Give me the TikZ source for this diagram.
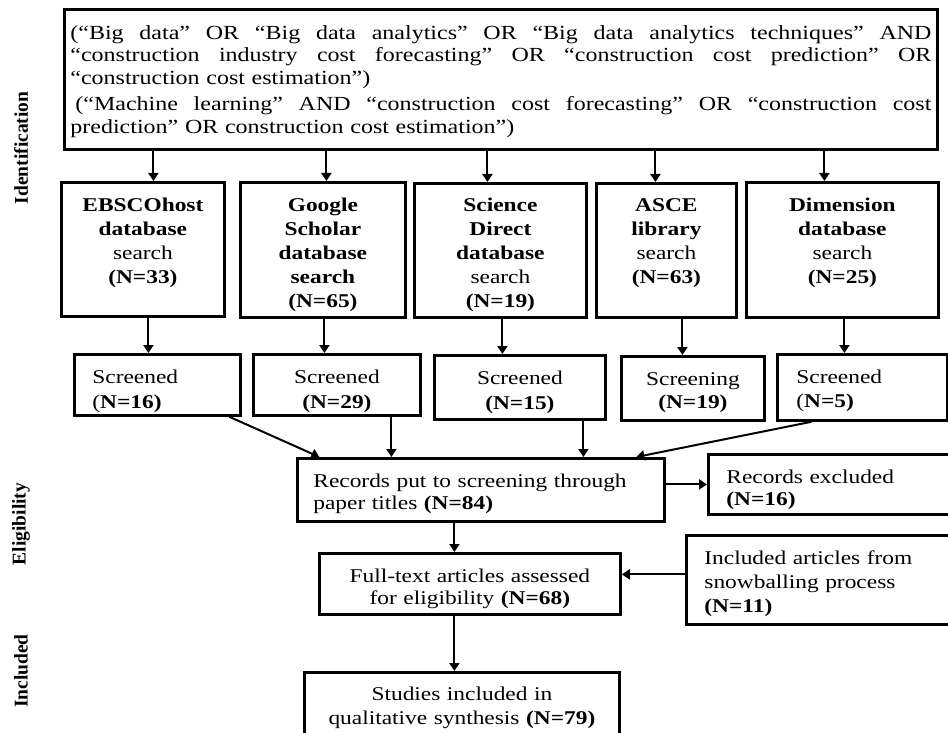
\documentclass[tikz,border=0pt]{standalone}
\usepackage{fontspec}
\setmainfont[FakeStretch=1.2]{Liberation Serif}
\newfontfamily\sidefont{Liberation Serif}
\usetikzlibrary{arrows.meta}

\newcommand{\jline}[1]{\makebox[861pt][s]{\spaceskip=\fontdimen2\font plus 1fil\relax #1}}

\tikzset{
    >={Triangle[length=8pt,width=10pt]},
    pbox/.style={draw, line width=2.8pt, anchor=north west, inner ysep=0pt,
        inner xsep=4pt, align=center, font=\fontsize{19.5}{23}\selectfont},
    dbbox/.style={pbox, font=\fontsize{19.5}{24}\selectfont},
    arr/.style={->, line width=2pt},
    phase/.style={rotate=90, font=\sidefont\bfseries\fontsize{19.5}{23}\selectfont}
}

\begin{document}
\begin{tikzpicture}[x=1pt,y=-1pt]
                \useasboundingbox (0,0) rectangle (948,733);

                \node[phase] (ident) at (21,148) {Identification};
                \node[phase] (elig) at (21,524) {Eligibility};
                \node[phase] (incl) at (21,671) {Included};

                \node[pbox, align=left, inner xsep=6pt, text width=861pt,
                    text height=30pt, text depth=110pt, font=\fontsize{20}{22.5}\selectfont] (query) at (63,8)
                    {\jline{(“Big data” OR “Big data analytics” OR “Big data analytics techniques” AND}\\
                     \jline{“construction industry cost forecasting” OR “construction cost prediction” OR}\\
                     “construction cost estimation”)\\[4pt]
                     \jline{\hspace{5pt}(“Machine learning” AND “construction cost forecasting” OR “construction cost}\\
                     prediction” OR construction cost estimation”)};

                \node[dbbox, text width=155pt, text height=29pt, text depth=105pt] (ebsco) at (60,181)
                    {\textbf{EBSCOhost}\\\textbf{database}\\search\\\textbf{(N=33)}};
                \node[dbbox, text width=157pt, text height=29pt, text depth=106pt] (google) at (239,181)
                    {\textbf{Google}\\\textbf{Scholar}\\\textbf{database}\\\textbf{search}\\\textbf{(N=65)}};
                \node[dbbox, text width=164pt, text height=28pt, text depth=106pt] (scidir) at (413,182)
                    {\textbf{Science}\\\textbf{Direct}\\\textbf{database}\\search\\\textbf{(N=19)}};
                \node[dbbox, text width=132pt, text height=28pt, text depth=106pt] (asce) at (595,182)
                    {\textbf{ASCE}\\\textbf{library}\\search\\\textbf{(N=63)}};
                \node[dbbox, text width=184pt, text height=29pt, text depth=106pt] (dimen) at (745,181)
                    {\textbf{Dimension}\\\textbf{database}\\search\\\textbf{(N=25)}};

                \node[pbox, align=left, inner xsep=18pt, text width=130pt, text height=29.5pt,
                    text depth=31.5pt, font=\fontsize{19.5}{25}\selectfont] (scr1) at (73,353)
                    {Screened\\(\textbf{N=16)}};
                \node[pbox, text width=159pt, text height=29.5pt, text depth=31.5pt,
                    font=\fontsize{19.5}{25}\selectfont] (scr2) at (252,353)
                    {Screened\\\textbf{(N=29)}};
                \node[pbox, text width=163pt, text height=29pt, text depth=35pt,
                    font=\fontsize{19.5}{25}\selectfont] (scr3) at (433,354)
                    {Screened\\\textbf{(N=15)}};
                \node[pbox, text width=135pt, text height=29.5pt, text depth=34.5pt] (scr4) at (620,355)
                    {Screening\\\textbf{(N=19)}};
                \node[pbox, align=left, inner xsep=19pt, text width=132pt, text height=29.5pt,
                    text depth=36.5pt, font=\fontsize{19.5}{24}\selectfont] (scr5) at (776,353)
                    {Screened\\(\textbf{N=5)}};

                \node[pbox, align=left, inner xsep=16pt, text width=335pt, text height=29.5pt,
                    text depth=33.5pt, font=\fontsize{19.5}{22}\selectfont] (recs) at (296,457)
                    {Records put to screening through\\paper titles \textbf{(N=84)}};
                \node[pbox, align=left, inner xsep=18pt, text width=207pt, text height=29.5pt,
                    text depth=30.5pt, font=\fontsize{19.5}{22}\selectfont] (excl) at (707,453)
                    {Records excluded\\\textbf{(N=16)}};
                \node[pbox, text width=293pt, text height=29.5pt, text depth=31.5pt,
                    font=\fontsize{19.5}{22}\selectfont] (full) at (318,552)
                    {Full-text articles assessed\\for eligibility \textbf{(N=68)}};
                \node[pbox, align=left, inner xsep=18pt, text width=229pt, text height=29.5pt,
                    text depth=59.5pt, font=\fontsize{19.5}{24}\selectfont] (snow) at (685,534)
                    {Included articles from\\snowballing process\\\textbf{(N=11)}};
                \node[pbox, text width=307pt, text height=28.5pt, text depth=51.5pt,
                    font=\fontsize{19.5}{24}\selectfont] (studies) at (303,671)
                    {Studies included in\\qualitative synthesis \textbf{(N=79)}};

                \foreach \n/\dx in {ebsco/10.5, google/3.5, scidir/-13, asce/-11, dimen/-18}
                    \draw[arr] ([xshift=\dx pt]\n.north |- query.south) -- ([xshift=\dx pt]\n.north);
                \foreach \n/\m/\dx in {ebsco/scr1/5.5, google/scr2/1.5, scidir/scr3/2, asce/scr4/16, dimen/scr5/2}
                    \draw[arr] ([xshift=\dx pt]\n.south) -- ([xshift=\dx pt]\n.south |- \m.north);

                \draw[arr] ([xshift=72pt]scr1.south) -- ([xshift=-161.5pt]recs.north);
                \draw[arr] ([xshift=54.5pt]scr2.south) -- ([xshift=54.5pt]scr2.south |- recs.north);
                \draw[arr] ([xshift=63.5pt]scr3.south) -- ([xshift=63.5pt]scr3.south |- recs.north);
                \draw[arr] ([xshift=-51pt]scr5.south) -- ([xshift=155.5pt]recs.north);

                \draw[arr] (recs.east |- excl.west) -- (excl.west);
                \draw[arr] ([xshift=-15.5pt]full.north |- recs.south) -- ([xshift=-15.5pt]full.north);
                \draw[arr] ([yshift=5.5pt]snow.west) -- ([yshift=5.5pt]snow.west -| full.east);
                \draw[arr] ([xshift=-15.5pt]full.south) -- ([xshift=-15.5pt]full.south |- studies.north);
            \end{tikzpicture}
\end{document}
